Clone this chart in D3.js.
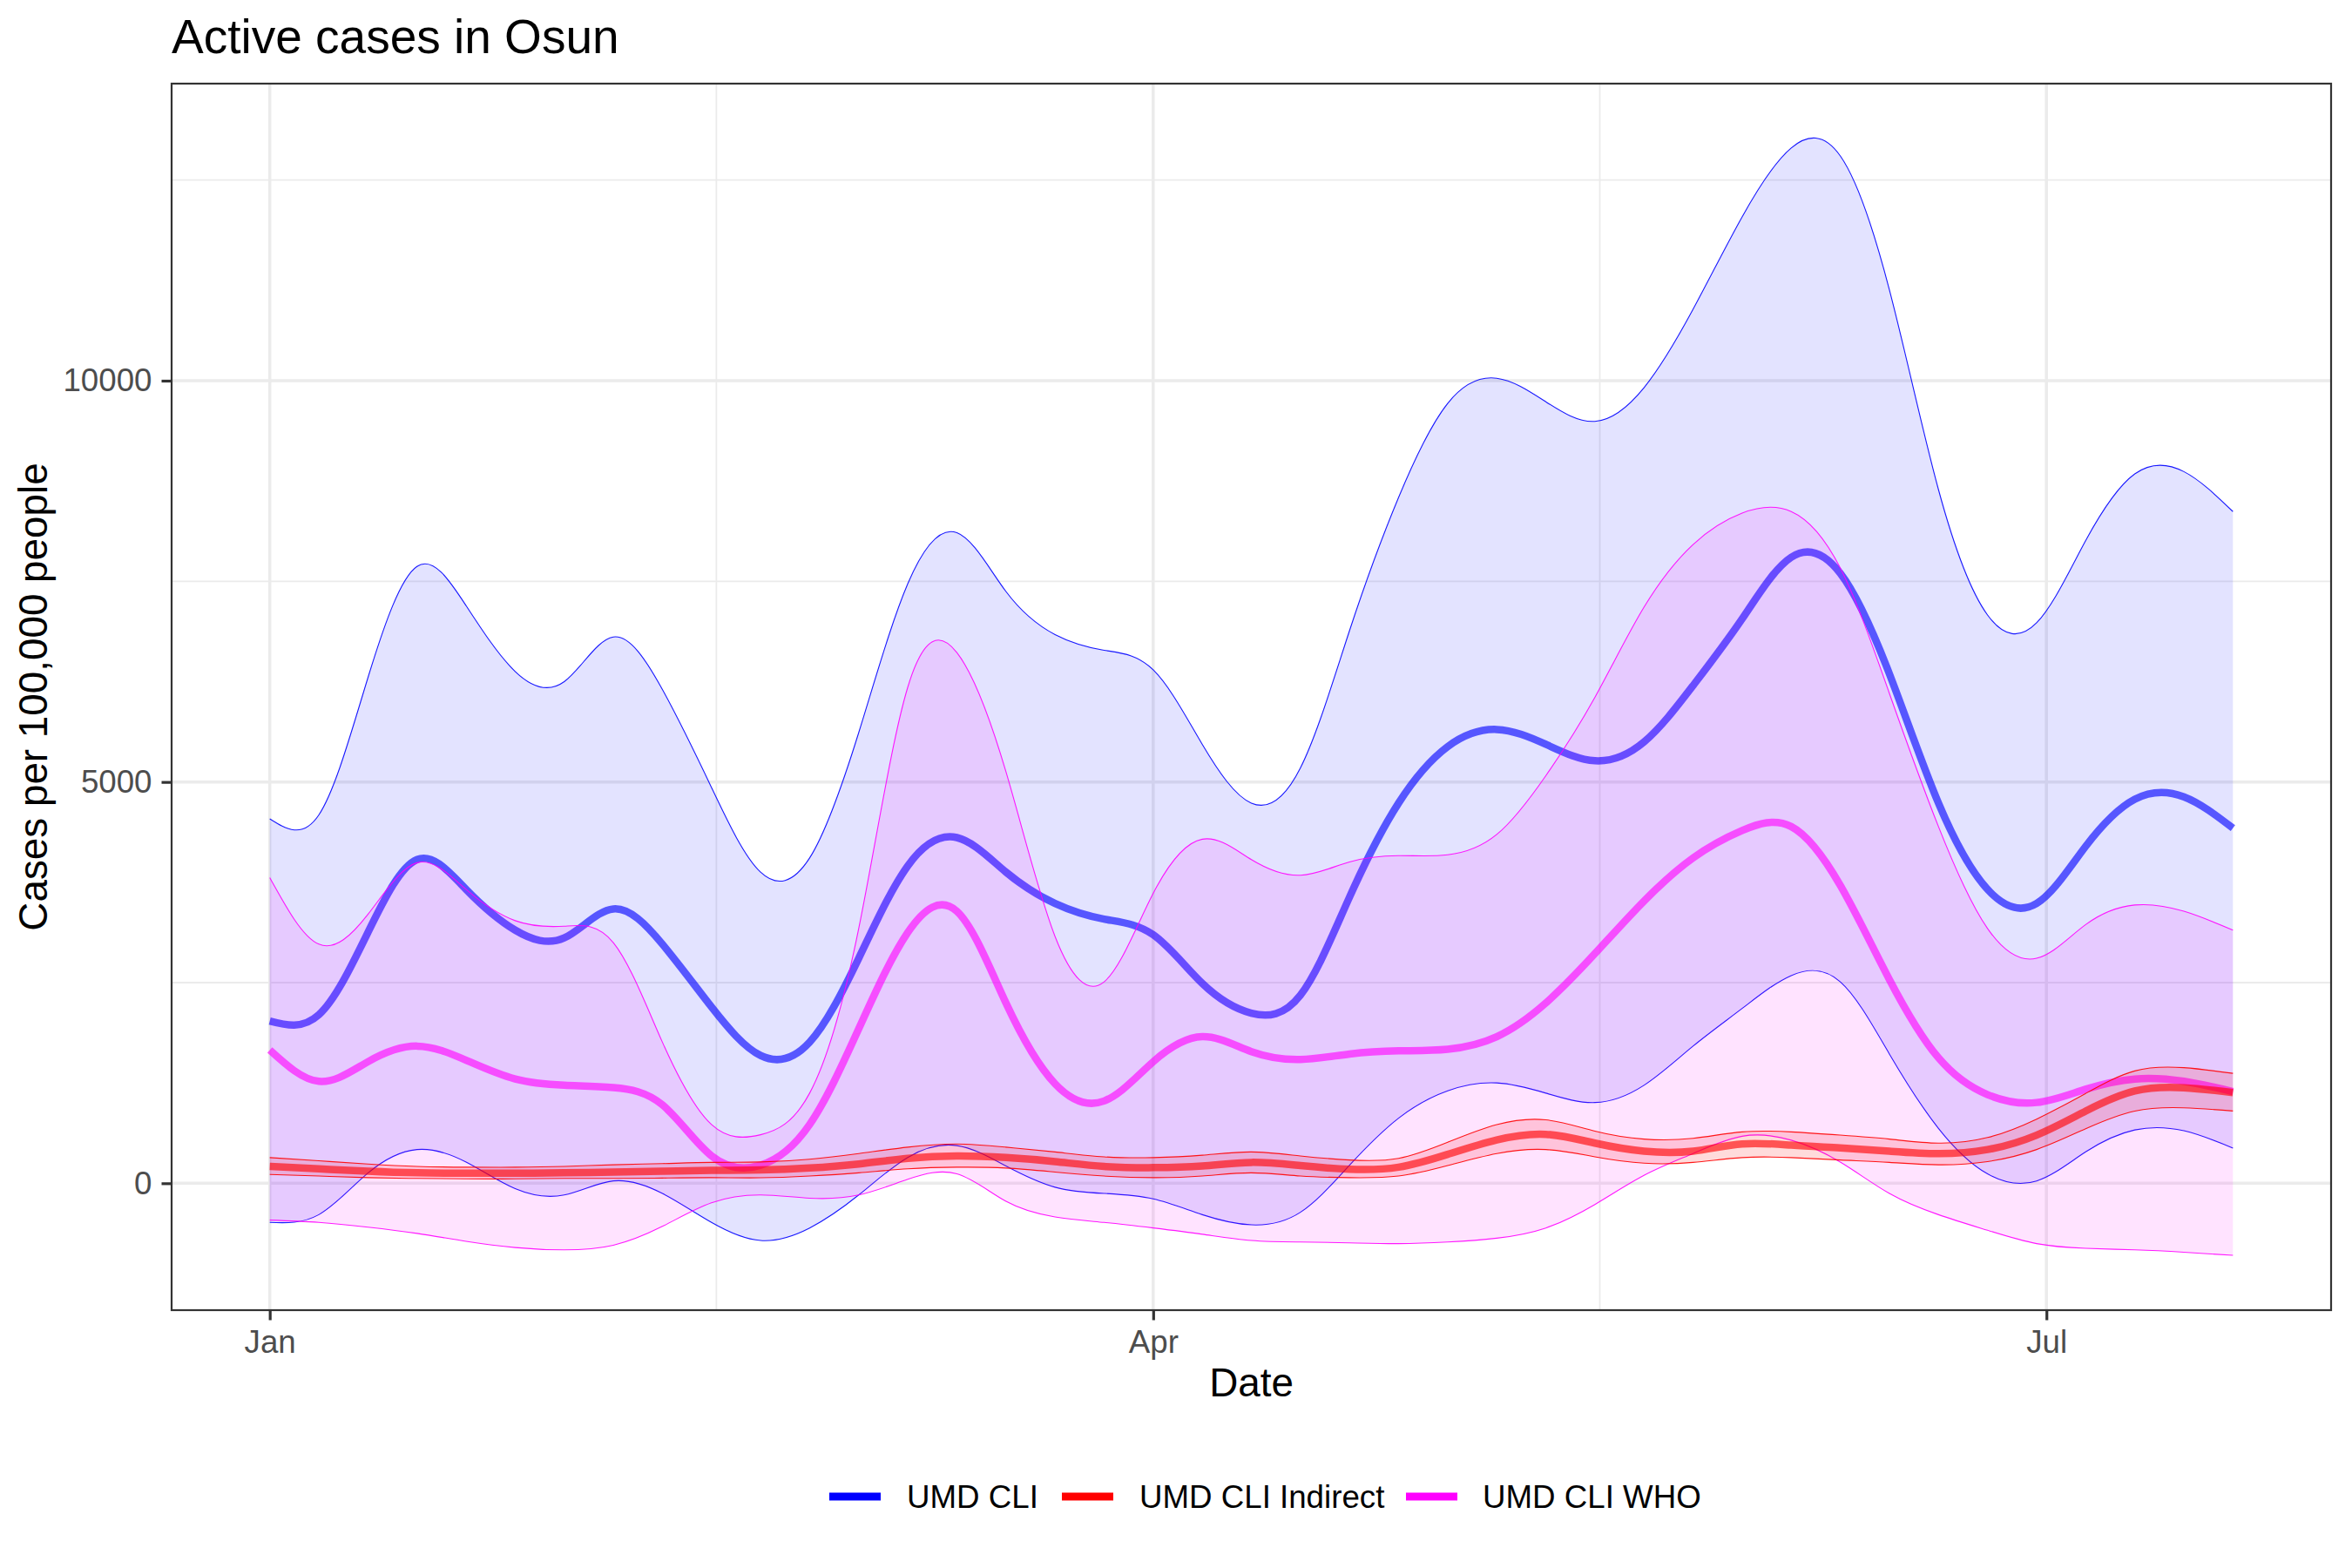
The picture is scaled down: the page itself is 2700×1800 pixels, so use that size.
<!DOCTYPE html>
<html>
<head>
<meta charset="utf-8">
<script src="https://cdn.jsdelivr.net/npm/d3@7"></script>
<style>
  html, body { margin: 0; padding: 0; background: #ffffff; }
  svg { display: block; font-family: "Liberation Sans", Arial, sans-serif; }
</style>
</head>
<body>
<svg id="chart" width="2700" height="1800"></svg>
<script>
// ---------------- data ----------------
const startDate = "2021-01-01";
const dayOffsets = d3.range(0, 201, 5); // sample days since Jan 1

const umdCliMean  = [2022, 2100, 3125, 4033, 3662, 3154, 3057, 3418, 2979, 2197, 1592, 1758, 2803, 3955, 4307, 3877, 3486, 3291, 3096, 2490, 2119, 2344, 3565, 4737, 5440, 5654, 5469, 5264, 5498, 6201, 7032, 7800, 7600, 6348, 4737, 3662, 3486, 4199, 4785, 4815, 4424];
const umdCliLower = [-488, -391, 127, 420, 264, -68, -146, 29, -127, -488, -713, -557, -146, 322, 469, 215, -49, -127, -195, -391, -518, -361, 225, 811, 1152, 1250, 1123, 1006, 1221, 1709, 2178, 2588, 2510, 1611, 684, 117, 29, 391, 664, 654, 439];
const umdCliUpper = [4541, 4590, 6299, 7686, 7197, 6377, 6250, 6807, 6152, 4932, 3877, 4053, 5615, 7471, 8106, 7373, 6836, 6641, 6397, 5469, 4737, 5176, 6885, 8545, 9717, 10030, 9737, 9493, 9912, 10889, 12041, 12900, 12800, 11133, 8643, 7080, 6983, 8008, 8838, 8867, 8369];

const whoMean  = [1660, 1270, 1514, 1709, 1533, 1299, 1221, 1191, 977, 342, 225, 732, 1924, 3125, 3389, 2246, 1240, 1025, 1514, 1826, 1641, 1543, 1611, 1650, 1670, 1826, 2246, 2861, 3516, 4053, 4395, 4444, 3711, 2539, 1563, 1104, 1006, 1172, 1299, 1270, 1143];
const whoLower = [-459, -488, -547, -625, -723, -801, -830, -772, -537, -244, -146, -186, -146, 49, 117, -225, -420, -488, -557, -635, -713, -732, -742, -752, -732, -684, -557, -264, 98, 371, 586, 537, 264, -127, -391, -586, -752, -811, -830, -859, -898];
const whoUpper = [3809, 2979, 3350, 3994, 3662, 3272, 3203, 2998, 1758, 732, 605, 1123, 3174, 6182, 6612, 5127, 3076, 2510, 3613, 4287, 4033, 3838, 4004, 4082, 4092, 4346, 5078, 6055, 7178, 7959, 8350, 8370, 7666, 6104, 4444, 3174, 2803, 3223, 3467, 3389, 3154];

const indMean  = [210, 180, 150, 130, 125, 125, 130, 140, 150, 160, 166, 190, 240, 310, 340, 320, 270, 210, 195, 215, 260, 220, 175, 200, 360, 540, 610, 500, 400, 400, 490, 475, 440, 400, 370, 420, 600, 900, 1150, 1190, 1130];
const indLower = [110, 90, 70, 60, 55, 55, 60, 60, 65, 70, 68, 90, 130, 180, 200, 190, 140, 90, 70, 90, 130, 90, 70, 90, 220, 370, 420, 330, 250, 260, 320, 320, 290, 260, 230, 270, 420, 680, 900, 940, 900];
const indUpper = [320, 280, 240, 210, 200, 200, 210, 230, 245, 260, 265, 300, 370, 450, 490, 450, 390, 330, 320, 350, 390, 340, 290, 310, 510, 730, 790, 650, 550, 560, 640, 640, 600, 550, 500, 570, 800, 1120, 1400, 1440, 1370];

const seriesNames  = ["UMD CLI", "UMD CLI Indirect", "UMD CLI WHO"];
const seriesColors = ["#0000ff", "#ff0000", "#ff00ff"];

const xTickDates  = ["2021-01-01", "2021-04-01", "2021-07-01"];
const xTickLabels = ["Jan", "Apr", "Jul"];
const xMinorDates = ["2021-02-15T12:00:00Z", "2021-05-16T12:00:00Z"];
const yTicks      = [0, 5000, 10000];
const yMinorTicks = [2500, 7500, 12500];

// ---------------- layout ----------------
const W = 2700, H = 1800;
const panel = { left: 197, right: 2676, top: 96, bottom: 1504 };
const parse = s => new Date(s.length === 10 ? s + "T00:00:00Z" : s);
const t0 = parse(startDate);
const dates = dayOffsets.map(d => d3.utcDay.offset(t0, d));

const x = d3.scaleUtc()
  .domain([d3.utcDay.offset(t0, -10), d3.utcDay.offset(t0, 210)])
  .range([panel.left, panel.right]);
const y = d3.scaleLinear()
  .domain([-1581, 13701])
  .range([panel.bottom, panel.top]);

const svg = d3.select("#chart");
svg.append("rect").attr("width", W).attr("height", H).attr("fill", "#ffffff");

// grid
const grid = svg.append("g");
grid.selectAll(".ymin").data(yMinorTicks).join("line")
  .attr("x1", panel.left).attr("x2", panel.right)
  .attr("y1", d => y(d)).attr("y2", d => y(d))
  .attr("stroke", "#ebebeb").attr("stroke-width", 1.8);
grid.selectAll(".xmin").data(xMinorDates).join("line")
  .attr("y1", panel.top).attr("y2", panel.bottom)
  .attr("x1", d => x(parse(d))).attr("x2", d => x(parse(d)))
  .attr("stroke", "#ebebeb").attr("stroke-width", 1.8);
grid.selectAll(".ymaj").data(yTicks).join("line")
  .attr("x1", panel.left).attr("x2", panel.right)
  .attr("y1", d => y(d)).attr("y2", d => y(d))
  .attr("stroke", "#ebebeb").attr("stroke-width", 3.5);
grid.selectAll(".xmaj").data(xTickDates).join("line")
  .attr("y1", panel.top).attr("y2", panel.bottom)
  .attr("x1", d => x(parse(d))).attr("x2", d => x(parse(d)))
  .attr("stroke", "#ebebeb").attr("stroke-width", 3.5);

// series
const series = [
  { mean: umdCliMean, lo: umdCliLower, hi: umdCliUpper, color: seriesColors[0], fillOp: 0.11 },
  { mean: whoMean,    lo: whoLower,    hi: whoUpper,    color: seriesColors[2], fillOp: 0.11 },
  { mean: indMean,    lo: indLower,    hi: indUpper,    color: seriesColors[1], fillOp: 0.14 }
];

const curve = d3.curveNatural;
const area = d3.area().curve(curve)
  .x((d, i) => x(dates[i])).y0(d => y(d[0])).y1(d => y(d[1]));
const line = d3.line().curve(curve)
  .x((d, i) => x(dates[i])).y(d => y(d));

const dataG = svg.append("g");
series.forEach(s => {
  const band = s.lo.map((v, i) => [v, s.hi[i]]);
  dataG.append("path").datum(band).attr("d", area)
    .attr("fill", s.color).attr("fill-opacity", s.fillOp).attr("stroke", "none");
  [s.lo, s.hi].forEach(b => {
    dataG.append("path").datum(b).attr("d", line)
      .attr("fill", "none").attr("stroke", s.color).attr("stroke-opacity", 0.9).attr("stroke-width", 1.1);
  });
  dataG.append("path").datum(s.mean).attr("d", line)
    .attr("fill", "none").attr("stroke", s.color).attr("stroke-opacity", 0.62)
    .attr("stroke-width", 8.5).attr("stroke-linejoin", "round").attr("stroke-linecap", "butt");
});

// panel border
svg.append("rect")
  .attr("x", panel.left).attr("y", panel.top)
  .attr("width", panel.right - panel.left).attr("height", panel.bottom - panel.top)
  .attr("fill", "none").attr("stroke", "#333333").attr("stroke-width", 2.2);

// axes
const yAxis = svg.append("g").attr("transform", `translate(${panel.left},0)`)
  .call(d3.axisLeft(y).tickValues(yTicks).tickSize(11.5).tickPadding(11).tickFormat(d3.format("d")));
const xAxis = svg.append("g").attr("transform", `translate(0,${panel.bottom})`)
  .call(d3.axisBottom(x).tickValues(xTickDates.map(parse)).tickSize(11.5).tickPadding(11.5)
    .tickFormat((d, i) => xTickLabels[i]));
[yAxis, xAxis].forEach(a => {
  a.select(".domain").remove();
  a.selectAll(".tick line").attr("stroke", "#333333").attr("stroke-width", 3.2);
  a.selectAll(".tick text").attr("fill", "#4d4d4d").style("font-size", "36.7px")
    .style("font-family", '"Liberation Sans", Arial, sans-serif');
});

// titles
svg.append("text").attr("x", panel.left).attr("y", 61)
  .attr("font-size", 55).attr("fill", "#000").text("Active cases in Osun");
svg.append("text").attr("x", (panel.left + panel.right) / 2).attr("y", 1603)
  .attr("text-anchor", "middle").attr("font-size", 45.8).attr("fill", "#000").text("Date");
svg.append("text")
  .attr("transform", `translate(54,${(panel.top + panel.bottom) / 2}) rotate(-90)`)
  .attr("text-anchor", "middle").attr("font-size", 45.8).attr("fill", "#000")
  .text("Cases per 100,000 people");

// legend
const legendKeyX = [952, 1219, 1614];
const legendTextX = [1041, 1308, 1702];
const legend = svg.append("g");
seriesNames.forEach((name, i) => {
  legend.append("line")
    .attr("x1", legendKeyX[i]).attr("x2", legendKeyX[i] + 59)
    .attr("y1", 1718).attr("y2", 1718)
    .attr("stroke", seriesColors[i]).attr("stroke-width", 9);
  legend.append("text").attr("x", legendTextX[i]).attr("y", 1731)
    .attr("font-size", 36.7).attr("fill", "#000").text(name);
});
</script>
</body>
</html>
